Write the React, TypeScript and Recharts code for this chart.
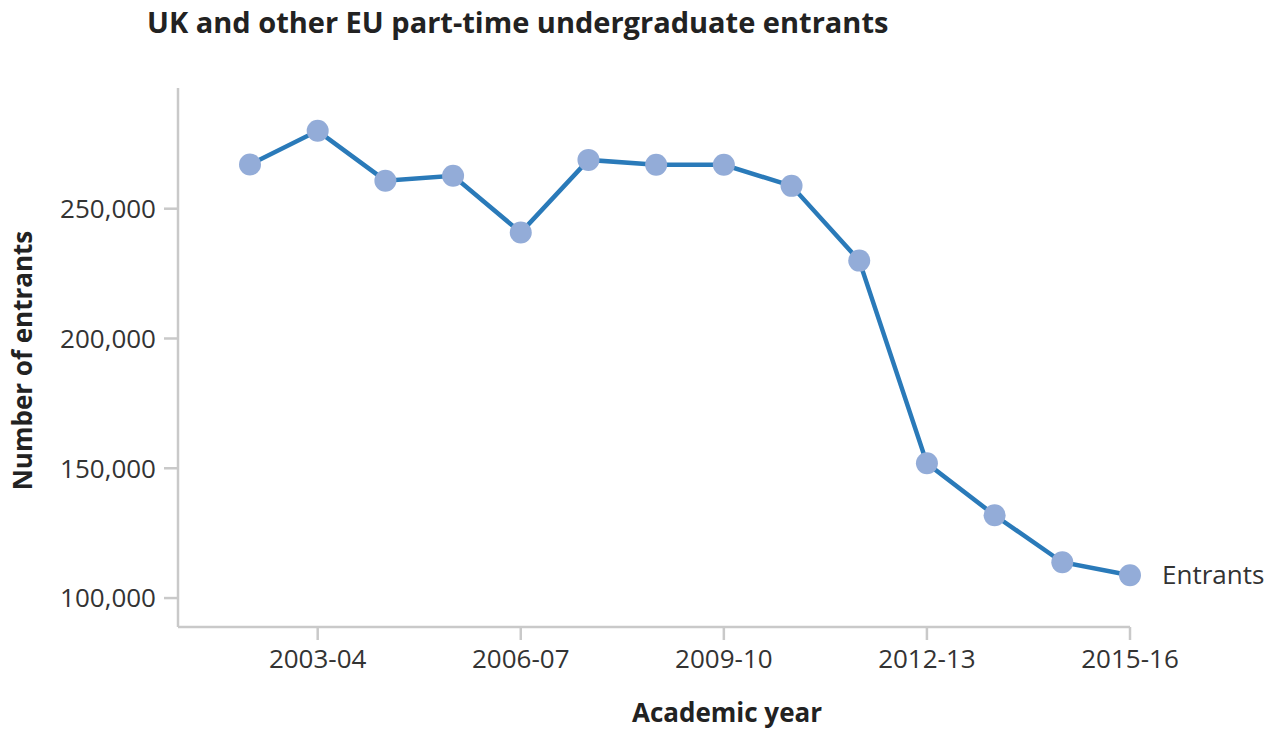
import { LineChart, Line, XAxis, YAxis, Label } from 'recharts';

const years = [
  '2002-03', '2003-04', '2004-05', '2005-06', '2006-07', '2007-08', '2008-09',
  '2009-10', '2010-11', '2011-12', '2012-13', '2013-14', '2014-15', '2015-16',
];
const entrants = [
  267000, 280000, 260800, 262700, 240800, 268800, 266900,
  266900, 258800, 230000, 151900, 131900, 113800, 108800,
];
const xTicks = ['2003-04', '2006-07', '2009-10', '2012-13', '2015-16'];
const yTicks = [100000, 150000, 200000, 250000];

const data = years.map((year, i) => ({ year, entrants: entrants[i] }));

const FONT = '"Open Sans", sans-serif';
const TEXT = '#333333';
const AXIS = '#c9c9c9';

const EndLabel = (props: any) => {
  const { x, y, index } = props;
  if (index !== years.length - 1) return null;
  return (
    <text x={x + 32} y={y} dy="0.35em" fontSize={26} fontFamily={FONT} fill={TEXT}>
      Entrants
    </text>
  );
};

export default function App() {
  return (
    <div style={{ position: 'absolute', left: 0, top: 0, width: 1282, height: 729, background: '#fff' }}>
      <div
        style={{
          position: 'absolute',
          left: 147,
          top: 2,
          fontFamily: FONT,
          fontWeight: 700,
          fontSize: 29,
          color: '#222',
          whiteSpace: 'nowrap',
        }}
      >
        UK and other EU part-time undergraduate entrants
      </div>
      <LineChart
        width={1282}
        height={729}
        data={data}
        margin={{ top: 88, right: 152, bottom: 42, left: 0 }}
      >
        <XAxis
          dataKey="year"
          ticks={xTicks}
          interval={0}
          padding={{ left: 72, right: 0 }}
          stroke={AXIS}
          strokeWidth={2.5}
          tickSize={13}
          tickMargin={10}
          height={60}
          tick={{ fill: TEXT, fontSize: 26, fontFamily: FONT }}
        >
          <Label
            content={() => (
              <text x={727} y={713} dy="0.35em" textAnchor="middle" fontSize={26} fontWeight={700} fontFamily={FONT} fill="#222">
                Academic year
              </text>
            )}
          />
        </XAxis>
        <YAxis
          width={178}
          domain={[88850, 296500]}
          ticks={yTicks}
          stroke={AXIS}
          strokeWidth={2.5}
          tickSize={14}
          tickMargin={8}
          tickFormatter={(v: number) => v.toLocaleString('en-US')}
          tick={{ fill: TEXT, fontSize: 26, fontFamily: FONT }}
        >
          <Label
            content={(p: any) => {
              const cy = p.viewBox.y + p.viewBox.height / 2 + 3;
              return (
                <text
                  x={23}
                  y={cy}
                  transform={`rotate(-90 23 ${cy})`}
                  dy="0.35em"
                  textAnchor="middle"
                  fontSize={26}
                  fontWeight={700}
                  fontFamily={FONT}
                  fill="#222"
                >
                  Number of entrants
                </text>
              );
            }}
          />
        </YAxis>
        <Line
          dataKey="entrants"
          stroke="none"
          dot={{ r: 11, fill: '#93acd8', stroke: 'none' }}
          activeDot={false}
          isAnimationActive={false}
        />
        <Line
          dataKey="entrants"
          stroke="#2a7ab9"
          strokeWidth={4.5}
          dot={false}
          activeDot={false}
          isAnimationActive={false}
          label={<EndLabel />}
        />
      </LineChart>
    </div>
  );
}
